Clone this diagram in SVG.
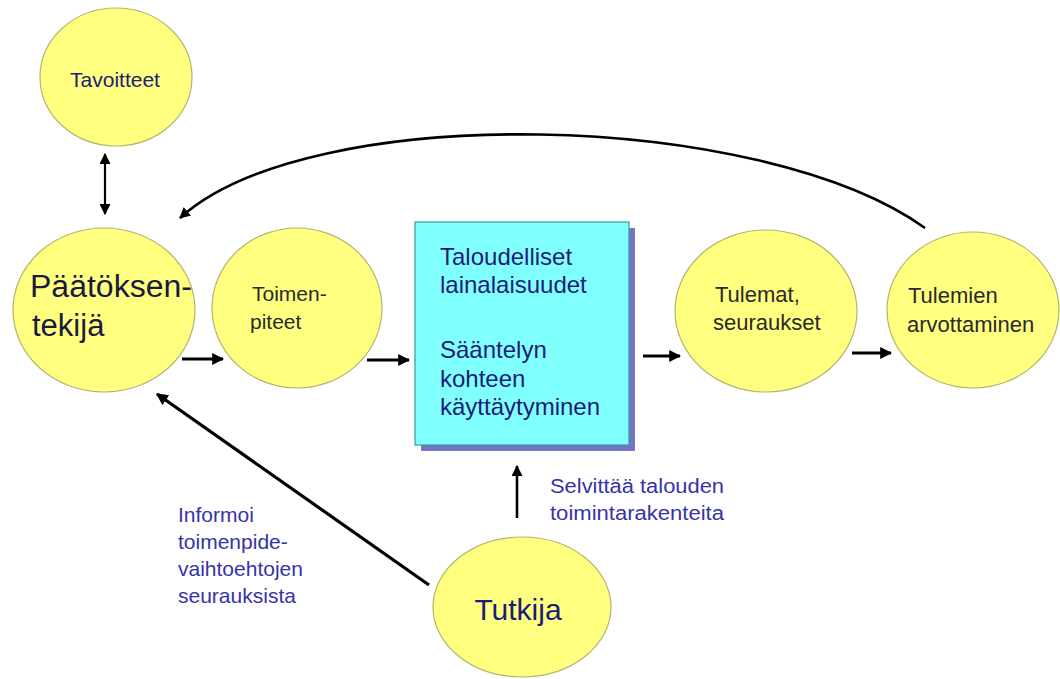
<svg xmlns="http://www.w3.org/2000/svg" width="1060" height="679" viewBox="0 0 1060 679">
<style>
.node{fill:#ffff80;stroke:#b4b470;stroke-width:1.2}
.t{font-family:"Liberation Sans",Arial,sans-serif}
.dk{fill:#2a2a2a}
.nv{fill:#1c1c78}
.bl{fill:#3434a8}
.con{stroke:#000;fill:none}
</style>
<defs>
<marker id="ah" viewBox="0 0 10 10" refX="9" refY="5" markerWidth="12" markerHeight="12" markerUnits="userSpaceOnUse" orient="auto-start-reverse">
<path d="M0,0 L10,5 L0,10 z" fill="#000"/>
</marker>
<marker id="ahs" viewBox="0 0 10 10" refX="9" refY="5" markerWidth="11" markerHeight="11" markerUnits="userSpaceOnUse" orient="auto-start-reverse">
<path d="M0,0 L10,5 L0,10 z" fill="#000"/>
</marker>
</defs>
<rect width="1060" height="679" fill="#fff"/>

<g id="tavoitteet">
<ellipse class="node" cx="116" cy="77" rx="76" ry="69"/>
<text class="t nv" x="115" y="87" font-size="21" text-anchor="middle">Tavoitteet</text>
</g>

<g id="paatoksentekija">
<ellipse class="node" cx="104" cy="310" rx="91" ry="82"/>
<text class="t" x="30" y="297" font-size="31" fill="#1a1a3c" textLength="162" lengthAdjust="spacingAndGlyphs">Päätöksen-</text>
<text class="t" x="32" y="336" font-size="31" fill="#1a1a3c">tekijä</text>
</g>

<g id="toimenpiteet">
<ellipse class="node" cx="297" cy="308" rx="85" ry="80"/>
<text class="t dk" x="252" y="301" font-size="21">Toimen-</text>
<text class="t dk" x="250" y="329" font-size="21">piteet</text>
</g>

<g id="lainalaisuudet">
<rect x="421" y="228" width="214" height="223" fill="#7474c8"/>
<rect x="415" y="222" width="214" height="223" fill="#80ffff" stroke="#3a9a9a" stroke-width="1.2"/>
<text class="t nv" font-size="24">
<tspan x="440" y="265">Taloudelliset</tspan>
<tspan x="440" y="293">lainalaisuudet</tspan>
<tspan x="440" y="358">Sääntelyn</tspan>
<tspan x="440" y="387">kohteen</tspan>
<tspan x="440" y="415">käyttäytyminen</tspan>
</text>
</g>

<g id="tulemat">
<ellipse class="node" cx="766" cy="311" rx="91" ry="81"/>
<text class="t dk" x="715" y="302" font-size="22">Tulemat,</text>
<text class="t dk" x="713" y="330" font-size="22">seuraukset</text>
</g>

<g id="tulemien">
<ellipse class="node" cx="973" cy="310" rx="86" ry="78"/>
<text class="t dk" x="908" y="303" font-size="22">Tulemien</text>
<text class="t dk" x="907" y="332" font-size="22">arvottaminen</text>
</g>

<g id="tutkija">
<ellipse class="node" cx="522" cy="607" rx="89" ry="70"/>
<text class="t nv" x="518" y="620" font-size="30" text-anchor="middle">Tutkija</text>
</g>

<g id="connectors">
<line class="con" x1="105" y1="154" x2="105" y2="214" stroke-width="2.2" marker-start="url(#ahs)" marker-end="url(#ahs)"/>
<line class="con" x1="182" y1="359" x2="223" y2="359" stroke-width="3.2" marker-end="url(#ah)"/>
<line class="con" x1="367" y1="360" x2="409" y2="360" stroke-width="3.2" marker-end="url(#ah)"/>
<line class="con" x1="643" y1="356" x2="680" y2="356" stroke-width="3.2" marker-end="url(#ah)"/>
<line class="con" x1="852" y1="353" x2="891" y2="353" stroke-width="3.2" marker-end="url(#ah)"/>
<path class="con" d="M925,228 C760,110 310,100 180,218" stroke-width="2.6" marker-end="url(#ahs)"/>
<line class="con" x1="429" y1="585" x2="157" y2="394" stroke-width="3.2" marker-end="url(#ah)"/>
<line class="con" x1="517" y1="518" x2="517" y2="466" stroke-width="2.6" marker-end="url(#ahs)"/>
</g>

<g id="labels">
<text class="t bl" font-size="20">
<tspan x="550" y="493" textLength="174" lengthAdjust="spacingAndGlyphs">Selvittää talouden</tspan>
<tspan x="550" y="520" textLength="174" lengthAdjust="spacingAndGlyphs">toimintarakenteita</tspan>
</text>
<text class="t bl" font-size="21">
<tspan x="178" y="522">Informoi</tspan>
<tspan x="178" y="549">toimenpide-</tspan>
<tspan x="178" y="576">vaihtoehtojen</tspan>
<tspan x="178" y="603">seurauksista</tspan>
</text>
</g>
</svg>
